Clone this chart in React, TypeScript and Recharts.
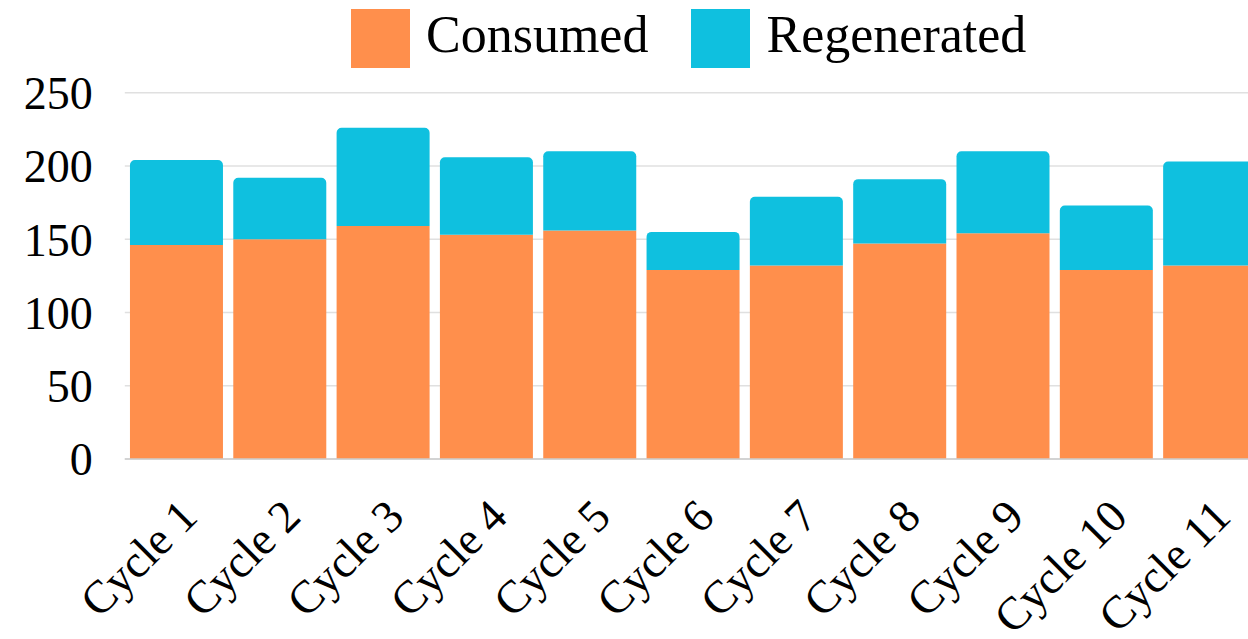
import React from "react";
import { BarChart, Bar, XAxis, YAxis, CartesianGrid, Legend } from "recharts";

const cycles = [
  "Cycle 1", "Cycle 2", "Cycle 3", "Cycle 4", "Cycle 5", "Cycle 6",
  "Cycle 7", "Cycle 8", "Cycle 9", "Cycle 10", "Cycle 11",
];
const consumed = [146, 150, 159, 153, 156, 129, 132, 147, 154, 129, 132];
const regenerated = [58, 42, 67, 53, 54, 26, 47, 44, 56, 44, 71];
const yTicks = [0, 50, 100, 150, 200, 250];

const ORANGE = "#ff8f4c";
const CYAN = "#0fc0df";
const FONT = '"Liberation Serif", "Times New Roman", serif';

const data = cycles.map((name, i) => ({
  name,
  Consumed: consumed[i],
  Regenerated: regenerated[i],
}));

const legendItems = [
  { label: "Consumed", color: ORANGE },
  { label: "Regenerated", color: CYAN },
];

const LegendContent = () => (
  <div style={{ display: "flex", alignItems: "center", height: 60, fontFamily: FONT }}>
    {legendItems.map((it, i) => (
      <div
        key={it.label}
        style={{ display: "flex", alignItems: "center", marginRight: i === 0 ? 43 : 0 }}
      >
        <div style={{ width: 59, height: 59, background: it.color, marginRight: 16 }} />
        <span
          style={{
            fontSize: 52,
            color: "#000",
            lineHeight: "60px",
            whiteSpace: "nowrap",
            position: "relative",
            top: -3,
          }}
        >
          {it.label}
        </span>
      </div>
    ))}
  </div>
);

export default function App() {
  return (
    <div
      style={{
        position: "fixed",
        left: 0,
        top: 0,
        width: 1248,
        height: 639,
        overflow: "hidden",
        background: "#fff",
      }}
    >
      <BarChart
        width={1280}
        height={639}
        data={data}
        margin={{ top: 32.7, right: 18.7, bottom: 0, left: 0 }}
        barCategoryGap="5%"
      >
        <CartesianGrid vertical={false} stroke="#e0e0e0" strokeWidth={1.5} />
        <XAxis
          dataKey="name"
          height={180}
          interval={0}
          tickLine={false}
          axisLine={{ stroke: "#cccccc", strokeWidth: 1.5 }}
          angle={-45}
          textAnchor="end"
          tickMargin={31}
          tick={{ fontSize: 46, fill: "#000", fontFamily: FONT }}
        />
        <YAxis
          width={124.8}
          domain={[0, 250]}
          ticks={yTicks}
          axisLine={false}
          tickLine={false}
          tickMargin={26}
          tick={{ fontSize: 46, fill: "#000", fontFamily: FONT }}
        />
        <Legend
          verticalAlign="top"
          content={<LegendContent />}
          wrapperStyle={{ left: 351, top: 8, width: "auto" }}
        />
        <Bar dataKey="Consumed" stackId="a" fill={ORANGE} isAnimationActive={false} />
        <Bar
          dataKey="Regenerated"
          stackId="a"
          fill={CYAN}
          radius={[5, 5, 0, 0]}
          isAnimationActive={false}
        />
      </BarChart>
    </div>
  );
}
